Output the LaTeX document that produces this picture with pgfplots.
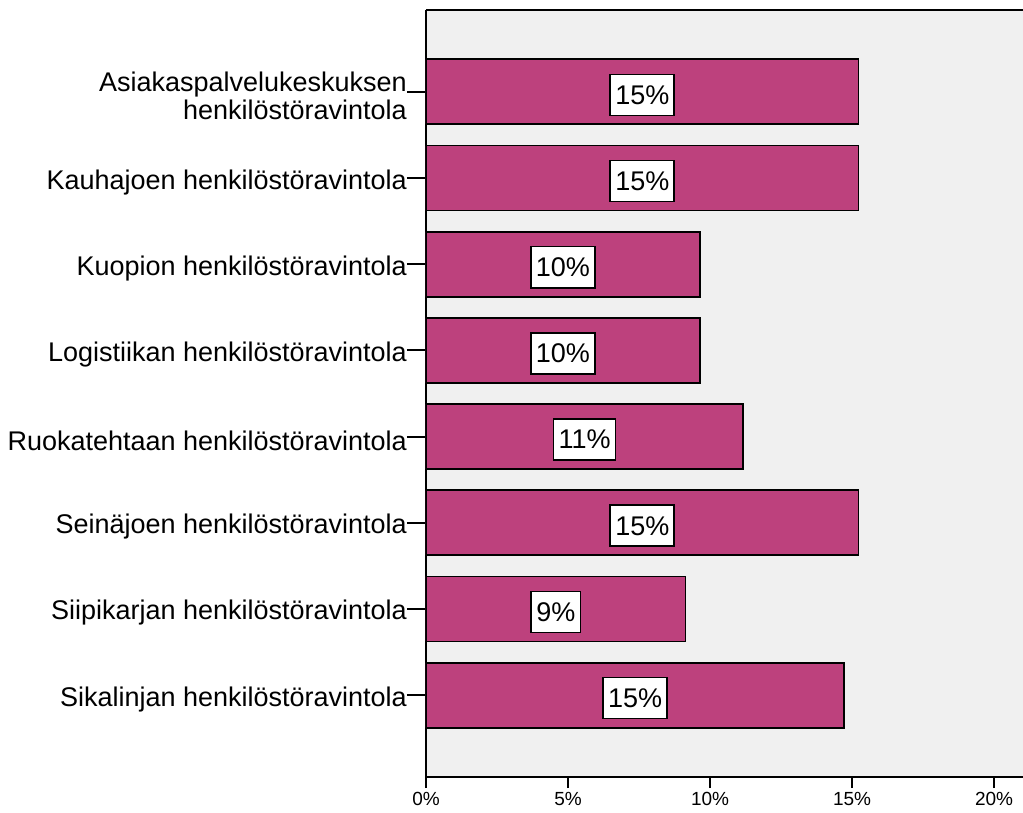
\documentclass[border=0pt]{standalone}
\usepackage{pgfplots}
\pgfplotsset{compat=1.18}
\usepackage{pgfplotstable}
\usepackage{fontspec}
\setmainfont{Liberation Sans}
\definecolor{barc}{RGB}{189,65,125}
\definecolor{bg}{RGB}{240,240,240}
\pgfplotstableread{
y v lab
0 15.23 15
1 15.23 15
2 9.64 10
3 9.64 10
4 11.17 11
5 15.23 15
6 9.14 9
7 14.72 15
}\data
\begin{document}
\begin{tikzpicture}
\begin{axis}[
  name=ax,
  scale only axis, width=597pt, height=767pt,
  xmin=0, xmax=21.02, ymin=-0.95, ymax=7.95, y dir=reverse,
  axis background/.style={fill=bg},
  axis x line=box, axis y line=left,
  axis line style={-, line width=2pt, black},
  xtick pos=bottom, ytick pos=left,
  tick align=outside, major tick length=11pt,
  every tick/.style={black, line width=2pt},
  y tick style={/pgfplots/major tick length=19pt},
  xtick={0,5,10,15,20},
  xticklabels={0\%,5\%,10\%,15\%,20\%},
  x tick label style={font=\fontsize{19}{20}\selectfont, inner sep=2pt, yshift=-2pt},
  ytick={0,...,7},
  yticklabels={{Asiakaspalvelukeskuksen\\henkilöstöravintola},
    {Kauhajoen henkilöstöravintola},
    {Kuopion henkilöstöravintola},
    {Logistiikan henkilöstöravintola},
    {Ruokatehtaan henkilöstöravintola},
    {Seinäjoen henkilöstöravintola},
    {Siipikarjan henkilöstöravintola},
    {Sikalinjan henkilöstöravintola}},
  y tick label style={font=\fontsize{27}{28}\selectfont, align=right, inner sep=0pt, xshift=-8pt, yshift=-4pt},
]
\addplot[xbar, bar shift=0pt, bar width=65pt, fill=barc, draw=black, line width=1.8pt] table[x=v, y=y] {\data};
\addplot[draw=none, mark=none, nodes near coords={\pgfplotspointmeta\%}, point meta=explicit symbolic,
  every node near coord/.style={anchor=center, fill=white, draw=black, line width=1.6pt,
  font=\fontsize{27}{28}\selectfont, inner xsep=5pt, inner ysep=11pt, yshift=-3pt}]
  table[x expr=\thisrow{v}/2, y=y, meta=lab] {\data};
\end{axis}
\pgfresetboundingbox
\path ([shift={(-426pt,-35pt)}]ax.south west) rectangle ([shift={(0pt,10pt)}]ax.north east);
\end{tikzpicture}
\end{document}
